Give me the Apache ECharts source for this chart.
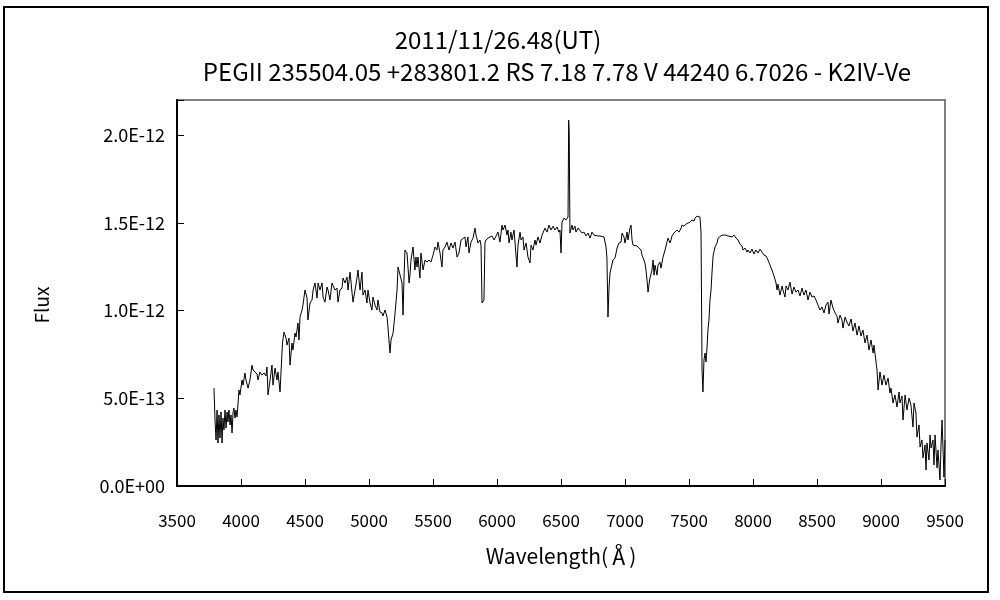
<!DOCTYPE html>
<html>
<head>
<meta charset="utf-8">
<script src="https://cdn.jsdelivr.net/npm/echarts@6/dist/echarts.min.js"></script>
<style>html,body{margin:0;padding:0;background:#fff;}#main{width:1000px;height:600px;}</style>
</head>
<body>
<div id="main"></div>
<script>
const titleLine1 = '2011/11/26.48(UT)';
const titleLine2 = 'PEGII 235504.05 +283801.2 RS 7.18 7.78 V 44240 6.7026 - K2IV-Ve';
const xAxisName = 'Wavelength(\u212B)';
const yAxisName = 'Flux';
const xTicks = [3500, 4000, 4500, 5000, 5500, 6000, 6500, 7000, 7500, 8000, 8500, 9000, 9500];
const yTickLabels = ['0.0E+00', '5.0E-13', '1.0E-12', '1.5E-12', '2.0E-12'];
const fluxUnit = 1e-13;

// Wavelength (Angstrom)
const wavelength = [
3789,3797,3805,3813,3820,3828,3836,3844,3852,3859,3867,3875,3883,3891,3898,3906,3914,3922,3930,3938,
3945,3953,3961,3969,3977,3984,3992,4008,4016,4031,4039,4055,4070,4086,4094,4109,4125,4133,4148,4164,
4180,4195,4203,4211,4227,4242,4250,4266,4281,4289,4305,4320,4324,4336,4352,4359,4375,4383,4398,4406,
4422,4430,4445,4453,4461,4477,4484,4500,4516,4523,4539,4555,4563,4578,4594,4602,4617,4633,4641,4656,
4672,4680,4695,4711,4719,4734,4750,4758,4773,4789,4797,4813,4828,4836,4852,4867,4875,4891,4906,4914,
4930,4945,4953,4969,4984,4992,5008,5023,5031,5047,5063,5070,5086,5102,5109,5125,5141,5148,5164,5172,
5188,5203,5219,5227,5242,5258,5266,5273,5281,5297,5313,5320,5328,5344,5359,5367,5375,5383,5398,5406,
5422,5438,5453,5469,5484,5500,5516,5531,5539,5555,5570,5578,5594,5609,5625,5641,5656,5672,5688,5703,
5719,5734,5750,5758,5773,5781,5797,5813,5828,5836,5852,5867,5875,5883,5891,5898,5906,5914,5930,5945,
5961,5977,5992,6008,6023,6039,6047,6063,6078,6086,6094,6109,6117,6133,6141,6156,6164,6180,6188,6203,
6211,6227,6242,6258,6266,6281,6297,6305,6320,6336,6352,6359,6375,6391,6406,6422,6438,6453,6469,6484,
6492,6500,6508,6523,6539,6555,6560,6564,6570,6586,6594,6609,6617,6633,6648,6664,6680,6695,6711,6727,
6742,6758,6773,6789,6805,6820,6836,6844,6852,6859,6867,6875,6883,6898,6906,6922,6938,6953,6969,6977,
6992,7000,7016,7023,7039,7047,7055,7063,7078,7094,7109,7125,7133,7141,7156,7164,7172,7180,7188,7195,
7211,7219,7227,7234,7242,7250,7258,7273,7281,7297,7305,7313,7328,7336,7352,7359,7367,7383,7398,7406,
7422,7438,7445,7461,7477,7492,7508,7523,7539,7547,7563,7578,7586,7594,7602,7609,7617,7625,7633,7641,
7648,7656,7664,7672,7680,7688,7703,7719,7727,7742,7758,7773,7789,7805,7820,7836,7852,7867,7883,7898,
7914,7922,7938,7953,7961,7977,7992,8008,8023,8039,8055,8070,8086,8102,8117,8133,8148,8164,8180,8188,
8195,8211,8227,8234,8250,8258,8273,8289,8305,8320,8336,8352,8367,8383,8398,8414,8430,8445,8461,8477,
8492,8508,8523,8539,8555,8570,8586,8594,8609,8625,8641,8656,8664,8680,8695,8703,8719,8734,8750,8766,
8781,8797,8813,8828,8844,8859,8875,8891,8906,8922,8938,8945,8961,8969,8977,8992,9008,9023,9039,9055,
9070,9078,9094,9109,9125,9141,9148,9164,9172,9188,9203,9219,9234,9250,9258,9273,9281,9297,9305,9320,
9328,9344,9352,9359,9375,9383,9391,9406,9414,9422,9438,9445,9461,9469,9477,9484,9492,9500
];

// Flux, in units of 1e-13
const flux = [
5.58,3.76,2.62,4.33,2.45,4.05,2.74,4.22,2.45,3.87,3.19,4.33,3.30,4.22,3.65,4.33,3.48,4.05,3.02,4.22,
4.44,3.87,4.33,3.93,4.73,5.47,5.19,6.04,5.75,6.44,6.04,5.58,6.04,6.89,6.61,6.50,6.38,6.04,6.50,6.32,
6.44,6.27,6.78,5.19,6.04,6.89,5.75,6.72,6.04,6.50,5.36,5.36,8.15,8.77,8.43,8.03,8.43,6.89,8.15,7.75,
8.72,8.49,9.29,8.32,9.63,10.03,10.31,11.17,10.71,9.46,10.43,10.60,11.17,11.57,10.71,11.57,11.17,11.57,10.77,10.48,
11.34,11.17,10.60,11.57,11.62,11.17,11.28,10.48,11.17,11.28,11.85,11.57,11.91,11.17,12.19,11.05,10.48,11.17,11.85,12.31,
11.17,12.19,10.88,11.17,10.43,11.17,10.43,10.03,10.77,10.31,10.03,10.60,9.91,9.86,9.69,10.03,9.63,9.06,7.58,8.32,
8.72,9.80,11.17,12.48,12.42,11.57,9.74,11.74,13.45,13.28,11.57,12.02,12.88,13.62,12.31,13.05,12.48,13.05,11.85,13.28,
12.31,12.88,12.76,12.88,12.76,13.16,13.62,13.45,13.90,13.28,12.48,13.45,13.62,13.90,13.45,13.85,13.56,13.90,13.05,13.28,
14.02,14.13,14.19,13.62,14.19,13.28,13.90,14.13,14.70,14.30,13.85,14.02,13.73,10.43,10.43,10.60,13.85,14.02,14.13,14.02,
14.25,14.02,14.13,14.47,13.90,14.87,14.59,14.87,14.30,14.59,13.85,14.47,14.02,14.59,13.85,12.48,13.73,14.47,14.02,14.19,
13.45,13.85,13.05,12.71,13.73,13.45,14.02,13.73,14.19,13.85,14.30,14.42,14.70,14.47,14.87,14.59,14.81,14.59,14.76,14.47,
14.59,13.28,15.04,15.27,15.16,15.33,20.85,20.17,14.42,14.87,14.59,14.81,14.47,14.70,14.59,14.42,14.47,14.25,14.42,14.13,
14.47,14.30,14.36,14.25,14.25,14.30,14.19,14.19,13.62,12.99,9.63,11.28,12.14,12.19,12.88,12.99,13.56,13.85,13.90,14.42,
14.19,13.85,14.47,14.02,14.70,14.87,14.02,13.73,13.62,13.68,13.56,13.45,13.16,13.05,12.71,12.31,11.74,11.05,11.51,11.85,
12.31,12.88,12.02,12.59,12.31,12.02,12.59,12.76,12.42,13.05,13.05,13.45,13.90,14.13,13.85,14.02,14.25,14.42,14.36,14.59,
14.47,14.70,14.87,14.81,14.93,15.04,15.04,15.16,15.10,15.27,15.38,15.44,15.33,14.42,6.61,5.36,7.18,7.58,7.07,7.92,
8.89,9.46,10.60,11.17,12.19,13.11,13.62,13.85,14.13,14.19,14.30,14.19,14.30,14.25,14.36,14.19,14.30,14.13,14.02,13.79,
13.68,13.45,13.56,13.33,13.45,13.28,13.50,13.22,13.45,13.28,13.50,13.33,13.16,13.11,12.88,12.59,12.31,11.97,11.57,11.17,
11.51,10.88,11.40,11.17,10.77,11.40,11.17,11.62,10.94,11.34,11.05,11.17,10.83,11.28,10.88,11.17,10.60,11.05,10.77,10.83,
10.60,10.31,10.03,10.20,9.86,10.31,10.48,9.80,10.60,10.14,9.86,9.69,9.29,9.74,9.46,9.00,9.63,9.34,9.12,9.52,
8.83,9.29,8.60,9.12,8.55,8.89,8.15,8.60,7.75,8.32,7.58,8.03,7.07,6.61,5.47,6.50,5.75,6.32,5.75,6.15,
5.30,5.58,4.73,5.19,4.50,5.36,4.73,5.13,3.76,5.19,4.33,5.01,4.62,3.36,4.73,4.16,2.79,3.48,2.22,2.62,
1.60,2.34,0.91,2.45,1.48,2.91,2.17,2.62,1.20,2.91,1.03,2.05,0.34,2.34,3.76,3.87,0.51,2.62
];

const FONT = '"Noto Sans CJK JP", "Liberation Sans", sans-serif';
const seriesData = wavelength.map((w, i) => [w, flux[i] * fluxUnit]);

function fmtY(v) {
  const k = Math.round(v / fluxUnit);
  if (k % 5 !== 0) return '';
  const idx = k / 5;
  return yTickLabels[idx] !== undefined ? yTickLabels[idx] : '';
}
function fmtX(v) {
  return xTicks.indexOf(Math.round(v)) >= 0 ? String(Math.round(v)) : '';
}

const chart = echarts.init(document.getElementById('main'), null, {renderer: 'canvas'});
chart.setOption({
  animation: false,
  backgroundColor: '#ffffff',
  textStyle: {fontFamily: FONT},
  grid: {
    left: 177, right: 55, top: 100, bottom: 114,
    show: true, borderColor: '#808080', borderWidth: 2, backgroundColor: '#ffffff'
  },
  graphic: [
    {type: 'rect', silent: true, z: -1,
     shape: {x: 4, y: 7, width: 984, height: 585},
     style: {fill: 'none', stroke: '#000000', lineWidth: 2}},
    {type: 'text', silent: true, x: 498, y: 40,
     style: {text: titleLine1, font: '24px ' + FONT, fill: '#000', textAlign: 'center', textVerticalAlign: 'middle'}},
    {type: 'text', silent: true, x: 557, y: 72,
     style: {text: titleLine2, font: '24px ' + FONT, fill: '#000', textAlign: 'center', textVerticalAlign: 'middle'}}
  ],
  xAxis: {
    type: 'value', min: 3500, max: 9500, interval: 500,
    name: xAxisName, nameLocation: 'middle', nameGap: 60,
    nameTextStyle: {fontSize: 21, color: '#000', fontFamily: FONT},
    axisLine: {show: true, onZero: false, lineStyle: {color: '#000', width: 2}},
    axisTick: {show: true, inside: true, length: 7, lineStyle: {color: '#000', width: 1}},
    axisLabel: {margin: 26, fontSize: 17, color: '#000', fontFamily: FONT, formatter: fmtX},
    splitLine: {show: false}
  },
  yAxis: {
    type: 'value', min: 0, max: 2.2e-12, interval: 5e-13,
    name: yAxisName, nameLocation: 'middle', nameGap: 126, nameRotate: 90,
    nameTextStyle: {fontSize: 19, color: '#000', fontFamily: FONT, padding: [0, 24, 0, 0]},
    axisLine: {show: true, lineStyle: {color: '#000', width: 2}},
    axisTick: {show: true, inside: true, length: 7, lineStyle: {color: '#000', width: 1}},
    axisLabel: {margin: 12, fontSize: 18, color: '#000', fontFamily: FONT, formatter: fmtY},
    splitLine: {show: false}
  },
  series: [{
    type: 'line',
    data: seriesData,
    showSymbol: false,
    symbol: 'none',
    lineStyle: {color: '#000', width: 1},
    clip: true
  }]
});
</script>
</body>
</html>
